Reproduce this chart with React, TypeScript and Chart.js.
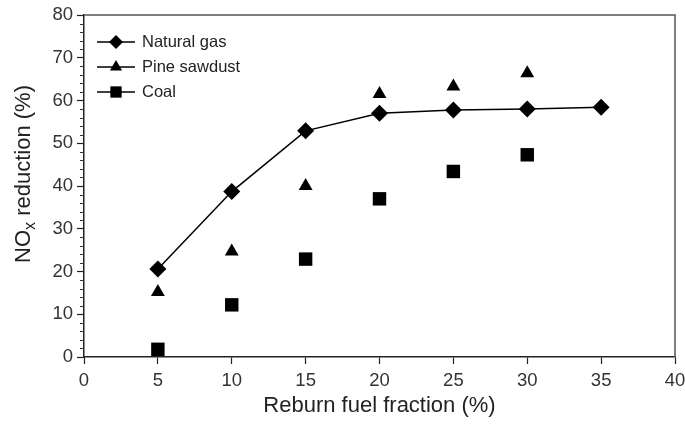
import React, { useEffect, useRef } from "react";
import { Chart, registerables } from "chart.js";

Chart.register(...registerables);

const fractions = [5, 10, 15, 20, 25, 30, 35];
const naturalGas = [20.6, 38.7, 52.9, 57.0, 57.8, 58.0, 58.4];
const pineSawdust = [15.2, 24.7, 40.0, 61.5, 63.3, 66.4];
const coal = [1.8, 12.2, 22.9, 37.0, 43.4, 47.3];
const seriesLabels = ["Natural gas", "Pine sawdust", "Coal"];
const xTitle = "Reburn fuel fraction (%)";

const FONT = "'Liberation Sans', Arial, sans-serif";

function drawMarker(ctx: CanvasRenderingContext2D, style: string, x: number, y: number, r: number) {
  ctx.beginPath();
  if (style === "rectRot") {
    ctx.moveTo(x, y - r);
    ctx.lineTo(x + r, y);
    ctx.lineTo(x, y + r);
    ctx.lineTo(x - r, y);
  } else if (style === "triangle") {
    ctx.moveTo(x, y - r);
    ctx.lineTo(x + r * Math.sin(Math.PI / 3), y + r / 2);
    ctx.lineTo(x - r * Math.sin(Math.PI / 3), y + r / 2);
  } else {
    const s = Math.SQRT1_2 * r;
    ctx.rect(x - s, y - s, 2 * s, 2 * s);
  }
  ctx.closePath();
  ctx.fill();
}

const framePlugin = {
  id: "frame",
  afterDraw(chart: any) {
    const { ctx, chartArea } = chart;
    const { left, right, top, bottom } = chartArea;
    const yScale = chart.scales.y;
    ctx.save();
    // top and right borders
    ctx.strokeStyle = "#555";
    ctx.lineWidth = 1.5;
    ctx.beginPath();
    ctx.moveTo(left, top);
    ctx.lineTo(right, top);
    ctx.lineTo(right, bottom);
    ctx.stroke();
    // minor y ticks
    ctx.strokeStyle = "#333";
    ctx.lineWidth = 1;
    ctx.beginPath();
    for (let v = 2; v < 80; v += 2) {
      if (v % 10 === 0) continue;
      const py = Math.round(yScale.getPixelForValue(v)) + 0.5;
      ctx.moveTo(left - 4, py);
      ctx.lineTo(left, py);
    }
    ctx.stroke();

    // y title with subscript
    ctx.fillStyle = "#222";
    ctx.translate(24, 174);
    ctx.rotate(-Math.PI / 2);
    const main = "NO";
    const sub = "x";
    const rest = " reduction (%)";
    ctx.font = `22px ${FONT}`;
    const w1 = ctx.measureText(main).width;
    const w3 = ctx.measureText(rest).width;
    ctx.font = `16px ${FONT}`;
    const w2 = ctx.measureText(sub).width;
    const total = w1 + w2 + w3;
    const x0 = -total / 2;
    ctx.textBaseline = "middle";
    ctx.textAlign = "left";
    ctx.font = `22px ${FONT}`;
    ctx.fillText(main, x0, 0);
    ctx.font = `16px ${FONT}`;
    ctx.fillText(sub, x0 + w1, 7);
    ctx.font = `22px ${FONT}`;
    ctx.fillText(rest, x0 + w1 + w2, 0);
    ctx.restore();

    // legend
    ctx.save();
    const styles = ["rectRot", "triangle", "rect"];
    const radii = [7, 7, 8];
    const rowY = [42, 67, 92];
    chart.data.datasets.forEach((ds: any, i: number) => {
      const y = rowY[i];
      const lx0 = left + 13;
      const lx1 = left + 51;
      const cx = (lx0 + lx1) / 2;
      ctx.strokeStyle = "#000";
      ctx.lineWidth = 1.5;
      ctx.beginPath();
      ctx.moveTo(lx0, y);
      ctx.lineTo(lx1, y);
      ctx.stroke();
      ctx.fillStyle = "#000";
      drawMarker(ctx, styles[i], cx, y, radii[i]);
      ctx.fillStyle = "#222";
      ctx.font = `16.5px ${FONT}`;
      ctx.textBaseline = "middle";
      ctx.textAlign = "left";
      ctx.fillText(ds.label, lx1 + 7, y);
    });
    ctx.restore();
  },
};

export default function App() {
  const ref = useRef<HTMLCanvasElement | null>(null);

  useEffect(() => {
    if (!ref.current) return;
    const toPts = (vals: number[]) => vals.map((v, i) => ({ x: fractions[i], y: v }));
    const chart = new Chart(ref.current, {
      type: "scatter",
      data: {
        datasets: [
          {
            label: seriesLabels[0],
            data: toPts(naturalGas),
            showLine: true,
            borderColor: "#000",
            backgroundColor: "#000",
            borderWidth: 1.5,
            pointStyle: "rectRot",
            pointRadius: 8.5,
            pointBorderWidth: 0,
          },
          {
            label: seriesLabels[1],
            data: toPts(pineSawdust),
            showLine: false,
            borderColor: "#000",
            backgroundColor: "#000",
            pointStyle: "triangle",
            pointRadius: 8,
            pointBorderWidth: 0,
          },
          {
            label: seriesLabels[2],
            data: toPts(coal),
            showLine: false,
            borderColor: "#000",
            backgroundColor: "#000",
            pointStyle: "rect",
            pointRadius: 9.5,
            pointBorderWidth: 0,
          },
        ],
      },
      options: {
        animation: false,
        responsive: false,
        maintainAspectRatio: false,
        layout: { padding: { top: 15, right: 10, left: 0, bottom: 0 } },
        plugins: {
          legend: { display: false },
          tooltip: { enabled: false },
        },
        scales: {
          x: {
            type: "linear",
            min: 0,
            max: 40,
            ticks: {
              stepSize: 5,
              color: "#333",
              font: { family: FONT, size: 18.5 },
              padding: 6,
            },
            grid: {
              drawOnChartArea: false,
              drawTicks: true,
              tickLength: 7,
              tickColor: "#222",
              tickWidth: 1.2,
            },
            border: { display: true, color: "#222", width: 1.5 },
            title: {
              display: true,
              text: xTitle,
              color: "#222",
              font: { family: FONT, size: 22 },
              padding: { top: 4, bottom: 6 },
            },
            afterFit: (scale: any) => {
              scale.height = 68;
              scale.paddingRight = 0;
              scale.paddingLeft = 0;
            },
          },
          y: {
            type: "linear",
            min: 0,
            max: 80,
            ticks: {
              stepSize: 10,
              color: "#333",
              font: { family: FONT, size: 18.5 },
              padding: 4,
            },
            grid: {
              drawOnChartArea: false,
              drawTicks: true,
              tickLength: 7,
              tickColor: "#222",
              tickWidth: 1.2,
            },
            border: { display: true, color: "#222", width: 1.5 },
            afterFit: (scale: any) => {
              scale.width = 84;
              scale.paddingTop = 0;
              scale.paddingBottom = 0;
            },
          },
        },
      },
      plugins: [framePlugin],
    });
    return () => chart.destroy();
  }, []);

  return (
    <div style={{ position: "absolute", left: 0, top: 0, width: 685, height: 425, background: "#fff" }}>
      <canvas ref={ref} width={685} height={425} style={{ width: 685, height: 425 }} />
    </div>
  );
}
